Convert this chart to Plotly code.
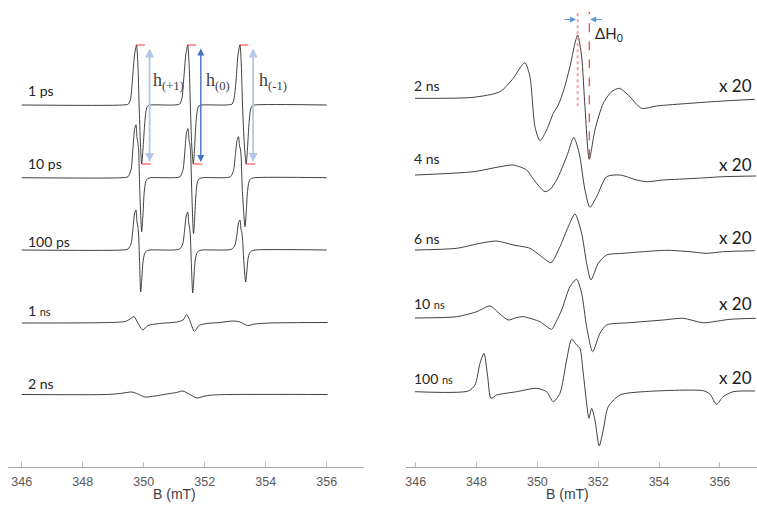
import plotly.graph_objects as go

# ---------------- data (B in mT, intensity in arbitrary units) ----------------
# Left panel: fast-motion spectra
ps1_B = [346.00, 349.30, 349.50, 349.57, 349.63, 349.70, 349.764, 349.81, 349.85, 349.895, 349.934, 349.975, 350.03, 350.08, 350.13, 350.22,
         350.98, 351.18, 351.25, 351.31, 351.38, 351.443, 351.49, 351.53, 351.575, 351.626, 351.665, 351.71, 351.76, 351.81, 351.90,
         352.70, 352.90, 352.96, 353.03, 353.09, 353.157, 353.20, 353.24, 353.30, 353.36, 353.40, 353.45, 353.50, 353.55, 353.64, 356.00]
ps1_I = [0, 0, 1, 6, 25, 50, 60, 40, 0, -40, -59, -45, -20, -5, -1, 0,
         0, 1, 6, 25, 50, 60, 40, 0, -40, -59, -45, -20, -5, -1, 0,
         0, 1, 6, 25, 50, 60, 40, 0, -40, -59, -45, -20, -5, -1, 0, 0]

ps10_B = [346.00, 349.289, 349.485, 349.584, 349.650, 349.699, 349.748, 349.780, 349.807, 349.833, 349.873, 349.934, 349.970, 350.016, 350.066, 350.125, 350.240,
          350.993, 351.190, 351.288, 351.354, 351.403, 351.452, 351.485, 351.511, 351.537, 351.577, 351.633, 351.669, 351.715, 351.764, 351.823, 351.944,
          352.649, 352.846, 352.944, 353.010, 353.059, 353.108, 353.141, 353.167, 353.193, 353.233, 353.321, 353.357, 353.403, 353.452, 353.511, 353.633, 356.00]
ps10_I = [0, 0, 1, 8, 30, 48, 53, 40, 36, 28, -15, -54, -40, -15, -4, -1, 0,
          0, 1, 8, 28, 45, 49, 38, 34, 26, -15, -56, -42, -16, -4, -1, 0,
          0, 1, 7, 24, 37, 41, 32, 29, 22, -12, -49, -37, -14, -4, -1, 0, 0]

ps100_B = [346.00, 349.289, 349.485, 349.584, 349.650, 349.699, 349.748, 349.780, 349.807, 349.833, 349.863, 349.902, 349.935, 349.977, 350.027, 350.092, 350.207,
           350.984, 351.180, 351.279, 351.345, 351.394, 351.443, 351.476, 351.502, 351.528, 351.558, 351.607, 351.640, 351.682, 351.732, 351.797, 351.912,
           352.698, 352.895, 352.993, 353.059, 353.108, 353.157, 353.190, 353.216, 353.242, 353.275, 353.344, 353.377, 353.420, 353.470, 353.535, 353.650, 356.00]
ps100_I = [0, 0, 1, 6, 22, 36, 40, 28, 24, 16, -10, -42, -30, -12, -4, -1, 0,
           0, 1, 6, 21, 34, 38, 27, 23, 15, -10, -43, -31, -12, -4, -1, 0,
           0, 1, 5, 16, 27, 30, 21, 18, 11, -8, -32, -23, -9, -3, -1, 0, 0]

ns1_B = [346.00, 348.57, 349.39, 349.55, 349.68, 349.81, 349.97, 350.14, 350.53, 351.08, 351.29, 351.41, 351.52,
         351.66, 351.81, 352.07, 352.50, 352.94, 353.16, 353.40, 353.65, 354.14, 356.03]
ns1_I = [0, 0.3, 1.5, 4, 6.5, 0, -7, -2.5, -0.5, 1, 3, 8.5, 2, -8.5, -2.5, -0.5, 0.5, 2, 1, -2.5, -1, 0, 0.5]

ns2L_B = [346.00, 348.79, 349.23, 349.61, 349.81, 350.04, 350.37, 350.86, 351.08, 351.28, 351.49, 351.74, 352.01, 352.28, 352.83, 356.03]
ns2L_I = [0, 0, 1, 2.5, 0.5, -2.5, -1.5, 1, 2, 3.5, 0.5, -3.5, -1.5, -0.5, 0, 0]

# Right panel: slow-motion spectra (x 20)
ns2R_B = [345.977, 347.893, 348.770, 349.207, 349.427, 349.592, 349.756, 349.920, 350.085, 350.305, 350.522, 350.686, 350.850,
          351.071, 351.235, 351.324, 351.455, 351.564, 351.705, 351.892, 352.165, 352.441, 352.691, 352.987, 353.427, 353.920,
          355.014, 356.108, 357.150]
ns2R_I = [0, 1, 6.6, 20, 30.3, 35.6, 21.6, -28.4, -42.4, -31.7, -15, -6.7, 6.6,
          31.6, 55, 63.3, 41.6, -8.4, -61, -31.7, -5, 6.6, 10, 3.3, -10, -7.7,
          -5, -2.7, -1]

ns4_B = [345.977, 347.893, 348.770, 349.207, 349.648, 349.812, 350.019, 350.249, 350.430, 350.634, 350.962, 351.195, 351.301,
         351.399, 351.564, 351.728, 351.948, 352.277, 352.714, 353.263, 353.591, 354.137, 355.234, 356.108, 357.183]
ns4_I = [0, 3.3, 8.3, 10, 5, -1.7, -10, -16.7, -14, -5, 18.3, 37.7, 30,
         18.3, -15, -32.3, -21.7, -1.7, 0, -5, -6.7, -5, -3.3, -1.7, -1]

ns6_B = [345.977, 347.347, 348.113, 348.662, 349.207, 349.756, 350.141, 350.446, 350.742, 351.015, 351.235, 351.455, 351.619,
         351.761, 352.001, 352.277, 352.822, 353.479, 354.248, 355.014, 355.563, 356.108, 357.150]
ns6_I = [0, 1.7, 6.7, 9, 5, 1.7, -6.7, -12.7, 3.3, 23.3, 36, 16.7, -13.3,
         -30, -13.3, -5, -3.3, -1.7, -0.3, -1.7, -3.3, -1.7, -0.7]

ns10_B = [345.977, 347.347, 348.005, 348.442, 348.770, 349.043, 349.319, 349.536, 350.085, 350.282, 350.469, 350.611, 350.798,
          351.071, 351.291, 351.455, 351.619, 351.817, 352.057, 352.277, 353.042, 354.137, 354.794, 355.451, 356.329, 357.183]
ns10_I = [0, 1.3, 6.3, 12, 4, -2, 0.5, 1.3, -3.7, -8, -11.3, -4, 8,
          31.3, 38.7, 24.7, -8.7, -33.7, -15.3, -7, -4.7, -2, -0.3, -4.7, -1.3, -0.3]

ns100_B = [345.977, 347.729, 347.949, 348.113, 348.244, 348.366, 348.475, 348.662, 349.319, 349.976, 350.305, 350.522, 350.742,
           350.962, 351.126, 351.291, 351.399, 351.508, 351.619, 351.695, 351.784, 351.892, 352.034, 352.165, 352.330, 352.714,
           353.479, 355.451, 355.671, 355.891, 356.108, 356.437, 357.150]
ns100_I = [0, 0.7, 6.7, 28.4, 38.4, 15, -6.6, -3.3, 0, 3.4, 0, -10, -1.6,
           31.7, 52.4, 46.7, 43.4, 18.4, -11.6, -26.6, -16.6, -28.3, -54.3, -38.3, -15, -3.3,
           0, 1, -2.3, -12.6, -5, 0, 0.7]

left_labels = ["1 ps", "10 ps", "100 ps", "1 <span style='font-size:11px'>ns</span>", "2 ns"]
left_offsets = [362, 289.3, 217, 144, 72.5]
left_label_y = [377, 303.7, 225.5, 157, 83.7]
left_series = [(ps1_B, ps1_I), (ps10_B, ps10_I), (ps100_B, ps100_I), (ns1_B, ns1_I), (ns2L_B, ns2L_I)]

right_labels = ["2 ns", "4 ns", "6 ns", "10 <span style='font-size:11px'>ns</span>", "100 <span style='font-size:11px'>ns</span>"]
right_offsets = [368.7, 292, 217, 149, 75.3]
right_label_y = [382, 308.7, 228.7, 163.7, 88.7]
scale_y = [381.3, 303, 230, 163.7, 89.7]
scale_text = "x 20"
right_series = [(ns2R_B, ns2R_I), (ns4_B, ns4_I), (ns6_B, ns6_I), (ns10_B, ns10_I), (ns100_B, ns100_I)]

x_ticks = [346, 348, 350, 352, 354, 356]
h_labels = ["h<sub>(+1)</sub>", "h<sub>(0)</sub>", "h<sub>(-1)</sub>"]
h_colors = ["#b4c7e7", "#4472c4", "#b4c7e7"]

# ---------------- figure ----------------
fig = go.Figure()
LINE = dict(color="#2a2a2a", width=0.9, shape="spline", smoothing=0.7)

for (B, I), off in zip(left_series, left_offsets):
    fig.add_trace(go.Scatter(x=B, y=[off + v for v in I], mode="lines", line=LINE,
                             xaxis="x", yaxis="y", hoverinfo="skip", showlegend=False))
for (B, I), off in zip(right_series, right_offsets):
    fig.add_trace(go.Scatter(x=B, y=[off + v for v in I], mode="lines", line=LINE,
                             xaxis="x2", yaxis="y", hoverinfo="skip", showlegend=False))

annotations = []
shapes = []
LABEL_FONT = dict(family="Lato, Carlito, sans-serif", size=14, color="#262626")

for txt, yy in zip(left_labels, left_label_y):
    annotations.append(dict(x=346.14, y=yy, xref="x", yref="y", text=txt, showarrow=False,
                            xanchor="left", yanchor="middle", font=LABEL_FONT))
for txt, yy in zip(right_labels, right_label_y):
    annotations.append(dict(x=345.87, y=yy, xref="x2", yref="y", text=txt, showarrow=False,
                            xanchor="left", yanchor="middle", font=LABEL_FONT))
for yy in scale_y:
    annotations.append(dict(x=357.12, y=yy, xref="x2", yref="y", text=scale_text, showarrow=False,
                            xanchor="right", yanchor="middle",
                            font=dict(family="Lato, sans-serif", size=17, color="#1a1a1a")))

# axis titles (paper y below plot area, centred on 351 mT)
for xr in ["x", "x2"]:
    annotations.append(dict(x=351, y=-26.5 / 467, xref=xr, yref="paper", text="B (mT)", showarrow=False,
                            xanchor="center", yanchor="middle",
                            font=dict(family="Liberation Sans, Arial, sans-serif", size=14, color="#404040")))

# h(+1), h(0), h(-1) markers derived from the 1 ps spectrum
base1 = left_offsets[0]
bounds = [(346, 350.6), (350.6, 352.3), (352.3, 356.1)]
for k, (lo, hi) in enumerate(bounds):
    idx = [i for i, b in enumerate(ps1_B) if lo <= b < hi]
    imax = max(idx, key=lambda i: ps1_I[i])
    imin = min(idx, key=lambda i: ps1_I[i])
    bpk, ypk = ps1_B[imax], base1 + ps1_I[imax]
    btr, ytr = ps1_B[imin], base1 + ps1_I[imin]
    shapes.append(dict(type="line", xref="x", yref="y", x0=bpk - 0.02, x1=bpk + 0.42, y0=ypk, y1=ypk,
                       line=dict(color="#ff3030", width=1, dash="dash")))
    shapes.append(dict(type="line", xref="x", yref="y", x0=btr, x1=btr + 0.46, y0=ytr, y1=ytr,
                       line=dict(color="#ff3030", width=1, dash="dash")))
    xa = bpk + 0.43
    annotations.append(dict(x=xa, y=ytr + 2, ax=xa, ay=ypk - 2, xref="x", yref="y", axref="x", ayref="y",
                            text="", showarrow=True, arrowhead=2, arrowside="end+start", arrowsize=1,
                            arrowwidth=1.8 if k != 1 else 1.4, arrowcolor=h_colors[k], standoff=0, startstandoff=0))
    annotations.append(dict(x=bpk + 0.48 + 0.04 * k, y=386, xref="x", yref="y", text=h_labels[k], showarrow=False,
                            xanchor="left", yanchor="middle",
                            font=dict(family="Liberation Serif, Times New Roman, serif", size=18, color="#404040")))

# Delta H0 markers derived from the 2 ns slow-motion spectrum
base2 = right_offsets[0]
jmax = max(range(len(ns2R_I)), key=lambda i: ns2R_I[i])
jmin = min(range(len(ns2R_I)), key=lambda i: ns2R_I[i])
bp, bt = ns2R_B[jmax], ns2R_B[jmin]
shapes.append(dict(type="line", xref="x2", yref="y", x0=bp, x1=bp, y0=base2 - 8, y1=455,
                   line=dict(color="#f4a0a0", width=2, dash="dot")))
shapes.append(dict(type="line", xref="x2", yref="y", x0=bt, x1=bt, y0=base2 + ns2R_I[jmin] + 1, y1=455,
                   line=dict(color="#e02020", width=1, dash="dash")))
annotations.append(dict(x=bp - 0.05, y=447.5, ax=bp - 0.48, ay=447.5, xref="x2", yref="y", axref="x2", ayref="y",
                        text="", showarrow=True, arrowhead=2, arrowsize=1, arrowwidth=1.2,
                        arrowcolor="#5b9bd5", standoff=0))
annotations.append(dict(x=bt + 0.03, y=447.5, ax=bt + 0.46, ay=447.5, xref="x2", yref="y", axref="x2", ayref="y",
                        text="", showarrow=True, arrowhead=2, arrowsize=1, arrowwidth=1.2,
                        arrowcolor="#5b9bd5", standoff=0))
annotations.append(dict(x=bt + 0.13, y=433.5, xref="x2", yref="y", text="ΔH<sub>0</sub>", showarrow=False,
                        xanchor="left", yanchor="middle",
                        font=dict(family="Lato, sans-serif", size=15, color="#262626")))

AX = dict(showline=True, linecolor="#a6a6a6", linewidth=1, ticks="inside", ticklen=5, tickcolor="#bfbfbf",
          tickvals=x_ticks, showgrid=False, zeroline=False, ticklabelstandoff=3,
          tickfont=dict(family="Liberation Sans, Arial, sans-serif", size=12.5, color="#595959"))

fig.update_layout(
    width=757, height=507, autosize=False,
    margin=dict(l=0, r=0, t=0, b=40, pad=0),
    paper_bgcolor="white", plot_bgcolor="white",
    xaxis=dict(domain=[8 / 757, 364 / 757], range=[345.551, 357.223], anchor="y", **AX),
    xaxis2=dict(domain=[405.7 / 757, 1.0], range=[345.671, 357.22], anchor="y", **AX),
    yaxis=dict(range=[0, 467], visible=False, showgrid=False, zeroline=False),
    annotations=annotations, shapes=shapes, showlegend=False,
)

fig.write_html("out.html", config={"displayModeBar": False, "staticPlot": True},
               post_script="document.body.style.margin='0';document.body.style.overflow='hidden';")
